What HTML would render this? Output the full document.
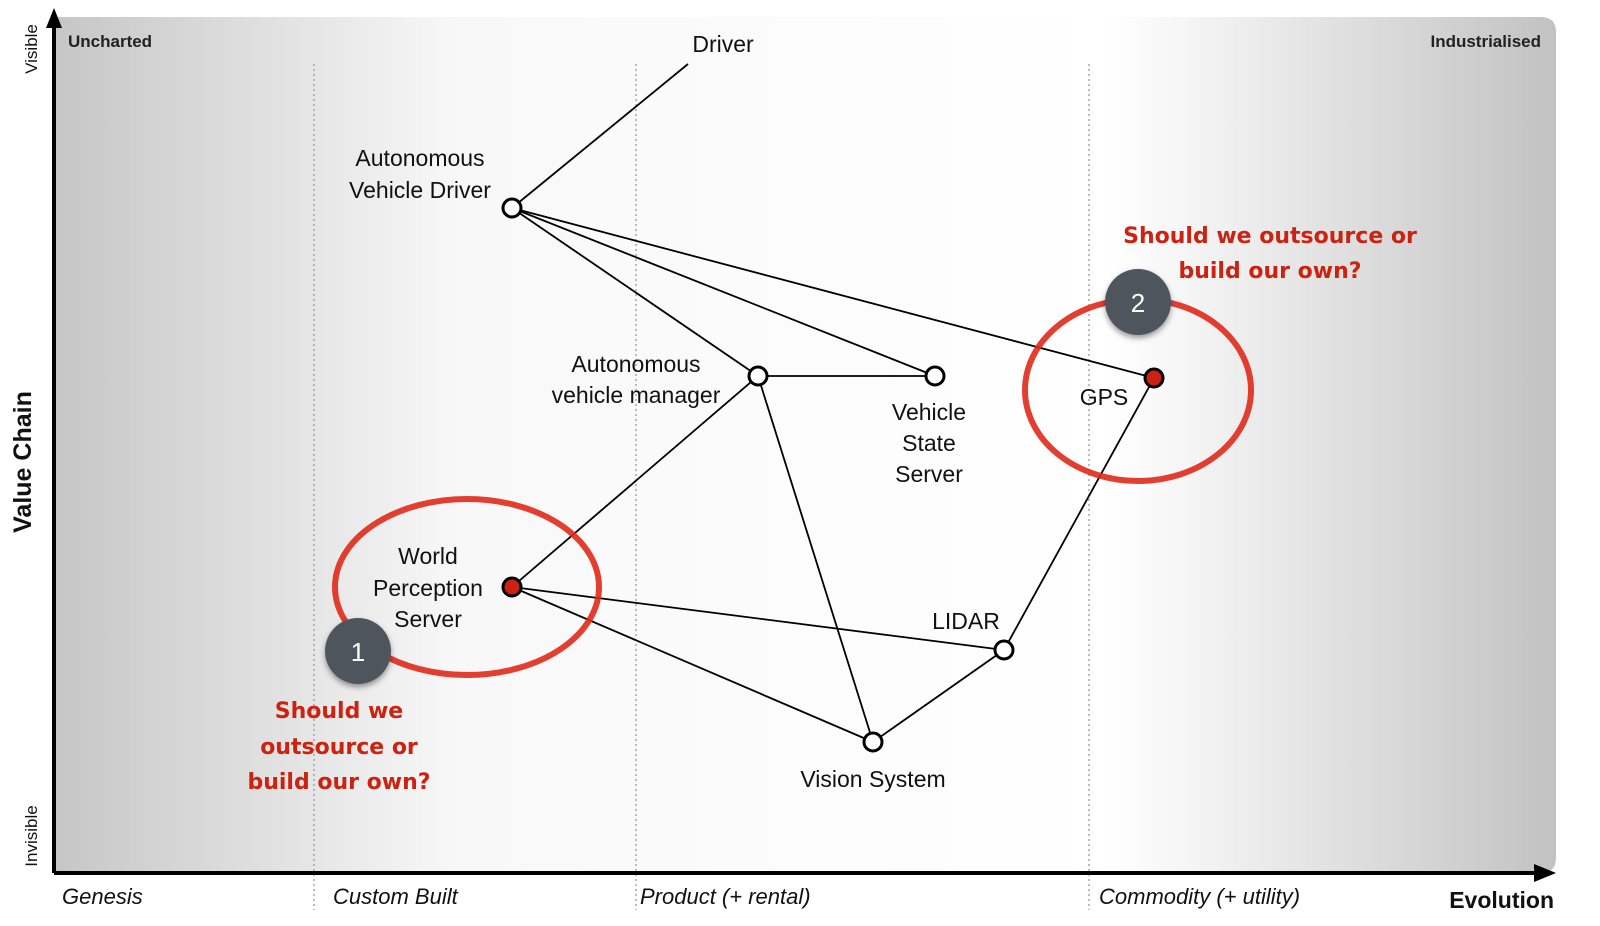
<!DOCTYPE html>
<html><head><meta charset="utf-8"><style>
html,body{margin:0;padding:0;background:#fff;}
svg{display:block;}
.n{font-family:"Liberation Sans",sans-serif;font-size:23px;fill:#111;text-anchor:middle;}
.ax{font-family:"Liberation Sans",sans-serif;font-size:22px;font-style:italic;fill:#111;}
.r{font-family:"DejaVu Sans",sans-serif;font-weight:bold;font-size:22px;fill:#cc2211;text-anchor:middle;}
</style></head><body>
<svg width="1600" height="926" viewBox="0 0 1600 926" xmlns="http://www.w3.org/2000/svg">
<defs>
<linearGradient id="g" x1="0" x2="1" y1="0" y2="0">
<stop offset="0" stop-color="#c6c6c6"/>
<stop offset="0.27" stop-color="#f8f8f8"/>
<stop offset="0.7" stop-color="#ffffff"/>
<stop offset="0.75" stop-color="#f6f6f6"/>
<stop offset="1" stop-color="#c2c2c2"/>
</linearGradient>
<filter id="sh" x="-30%" y="-30%" width="160%" height="160%"><feDropShadow dx="0" dy="3" stdDeviation="3" flood-opacity="0.4"/></filter>
</defs>
<path d="M54 17 H1541 Q1556 17 1556 32 V858 Q1556 873 1541 873 H54 Z" fill="url(#g)"/>
<g stroke="#999" stroke-width="1.3" stroke-dasharray="2,3">
<line x1="314" y1="64" x2="314" y2="910"/>
<line x1="636" y1="64" x2="636" y2="910"/>
<line x1="1089" y1="64" x2="1089" y2="910"/>
</g>
<line x1="54" y1="873" x2="54" y2="22" stroke="#000" stroke-width="4"/>
<polygon points="54,8 46,28 62,28" fill="#000"/>
<line x1="54" y1="873" x2="1540" y2="873" stroke="#000" stroke-width="4"/>
<polygon points="1556,873 1534,864 1534,882" fill="#000"/>
<text x="68" y="47" font-family="Liberation Sans,sans-serif" font-weight="bold" font-size="17" fill="#222">Uncharted</text>
<text x="1541" y="47" font-family="Liberation Sans,sans-serif" font-weight="bold" font-size="17" fill="#222" text-anchor="end">Industrialised</text>
<text class="ax" x="62" y="904">Genesis</text>
<text class="ax" x="333" y="904">Custom Built</text>
<text class="ax" x="640" y="904">Product (+ rental)</text>
<text class="ax" x="1099" y="904">Commodity (+ utility)</text>
<text x="1554" y="908" font-family="Liberation Sans,sans-serif" font-weight="bold" font-size="23" fill="#111" text-anchor="end">Evolution</text>
<text transform="translate(31,462) rotate(-90)" font-family="Liberation Sans,sans-serif" font-weight="bold" font-size="25" fill="#111" text-anchor="middle">Value Chain</text>
<text transform="translate(37,49) rotate(-90)" font-family="Liberation Sans,sans-serif" font-size="17" fill="#111" text-anchor="middle">Visible</text>
<text transform="translate(37,836) rotate(-90)" font-family="Liberation Sans,sans-serif" font-size="17" fill="#111" text-anchor="middle">Invisible</text>
<g stroke="#000" stroke-width="1.8">
<line x1="688" y1="64" x2="512" y2="208"/>
<line x1="512" y1="208" x2="758" y2="376"/>
<line x1="512" y1="208" x2="935" y2="376"/>
<line x1="512" y1="208" x2="1154" y2="378"/>
<line x1="758" y1="376" x2="935" y2="376"/>
<line x1="758" y1="376" x2="512" y2="587"/>
<line x1="758" y1="376" x2="873" y2="742"/>
<line x1="512" y1="587" x2="1004" y2="650"/>
<line x1="512" y1="587" x2="873" y2="742"/>
<line x1="873" y1="742" x2="1004" y2="650"/>
<line x1="1004" y1="650" x2="1154" y2="378"/>
</g>
<ellipse cx="467" cy="587" rx="132" ry="88" fill="none" stroke="#e02a1a" stroke-width="6" opacity="0.9"/>
<ellipse cx="1138" cy="390" rx="113" ry="91" fill="none" stroke="#e02a1a" stroke-width="6" opacity="0.9"/>
<g stroke="#000" stroke-width="3">
<circle cx="512" cy="208" r="9" fill="#fff"/>
<circle cx="758" cy="376" r="9" fill="#fff"/>
<circle cx="935" cy="376" r="9" fill="#fff"/>
<circle cx="1154" cy="378" r="9" fill="#cc2211"/>
<circle cx="512" cy="587" r="9" fill="#cc2211"/>
<circle cx="1004" cy="650" r="9" fill="#fff"/>
<circle cx="873" cy="742" r="9" fill="#fff"/>
</g>
<circle cx="358" cy="651" r="33" fill="#50555c" filter="url(#sh)"/>
<text x="358" y="661" font-family="Liberation Sans,sans-serif" font-size="26" fill="#fff" text-anchor="middle">1</text>
<circle cx="1138" cy="302" r="33" fill="#50555c" filter="url(#sh)"/>
<text x="1138" y="312" font-family="Liberation Sans,sans-serif" font-size="26" fill="#fff" text-anchor="middle">2</text>
<text class="n" x="723" y="52">Driver</text>
<text class="n" x="420" y="166">Autonomous</text>
<text class="n" x="420" y="198">Vehicle Driver</text>
<text class="n" x="636" y="372">Autonomous</text>
<text class="n" x="636" y="403">vehicle manager</text>
<text class="n" x="929" y="420">Vehicle</text>
<text class="n" x="929" y="451">State</text>
<text class="n" x="929" y="482">Server</text>
<text class="n" x="1104" y="405">GPS</text>
<text class="n" x="428" y="564">World</text>
<text class="n" x="428" y="596">Perception</text>
<text class="n" x="428" y="627">Server</text>
<text class="n" x="966" y="629">LIDAR</text>
<text class="n" x="873" y="787">Vision System</text>
<text class="r" x="339" y="718">Should we</text>
<text class="r" x="339" y="754">outsource or</text>
<text class="r" x="339" y="789">build our own?</text>
<text class="r" x="1270" y="243">Should we outsource or</text>
<text class="r" x="1270" y="278">build our own?</text>
</svg>
</body></html>
